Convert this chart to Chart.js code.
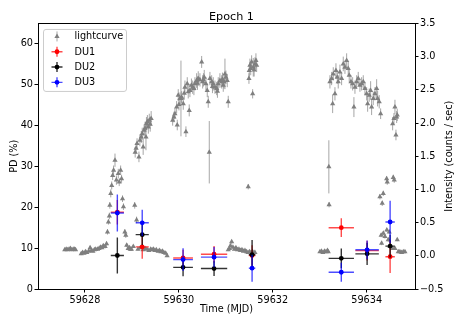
<!DOCTYPE html>
<html>
<head>
<meta charset="utf-8">
<script src="https://cdn.jsdelivr.net/npm/chart.js@4.4.1/dist/chart.umd.min.js"></script>
<style>html,body{margin:0;padding:0;background:#fff}</style>
</head>
<body>
<canvas id="chart" width="463" height="327"></canvas>
<script>
// tick labels
const timeTicks = [59628, 59630, 59632, 59634];
const pdTicks = [0, 10, 20, 30, 40, 50, 60];
const rateTicks = [-0.5, 0, 0.5, 1, 1.5, 2, 2.5, 3, 3.5];

// lightcurve (right axis), one line per stretch of the observation
const lcTime = [
  59627.57, 59627.60, 59627.63, 59627.66, 59627.69, 59627.72, 59627.75, 59627.78, 59627.80,
  59627.92, 59627.95, 59627.98, 59628.01, 59628.04, 59628.08, 59628.11, 59628.14, 59628.17, 59628.20, 59628.23, 59628.27, 59628.30, 59628.33, 59628.36, 59628.39, 59628.43,
  59628.46, 59628.48, 59628.50, 59628.52, 59628.53, 59628.55, 59628.57, 59628.59, 59628.61, 59628.64, 59628.67, 59628.71, 59628.73, 59628.76, 59628.78, 59628.80, 59628.82, 59628.85, 59628.87, 59628.89, 59628.92, 59628.95, 59628.97, 59628.99, 59629.03, 59629.06, 59629.10,
  59629.07, 59629.09, 59629.11, 59629.15, 59629.17, 59629.20, 59629.22, 59629.24, 59629.26, 59629.28, 59629.30, 59629.31, 59629.33, 59629.35, 59629.37, 59629.39, 59629.41,
  59629.13, 59629.18, 59629.24, 59629.28, 59629.32, 59629.36, 59629.40, 59629.43, 59629.46, 59629.49, 59629.52, 59629.56, 59629.59, 59629.62, 59629.65, 59629.68, 59629.72, 59629.75,
  59629.868, 59629.895, 59629.917, 59629.953, 59629.966, 59629.987, 59630.002, 59630.023, 59630.045, 59630.060, 59630.094, 59630.115, 59630.130, 59630.151, 59630.179, 59630.200, 59630.221, 59630.236, 59630.268, 59630.294, 59630.321, 59630.343, 59630.379, 59630.396, 59630.413, 59630.449, 59630.486, 59630.507, 59630.524, 59630.541, 59630.577, 59630.605, 59630.626, 59630.648, 59630.662, 59630.699, 59630.716, 59630.733, 59630.769, 59630.805, 59630.822, 59630.839, 59630.875, 59630.912, 59630.929, 59630.946, 59630.961, 59630.982, 59631.003, 59631.031, 59631.052,
  59631.052, 59631.078, 59631.099, 59631.125, 59631.152, 59631.184, 59631.216, 59631.248, 59631.280, 59631.312, 59631.344, 59631.376, 59631.408, 59631.440, 59631.472, 59631.504, 59631.536, 59631.568, 59631.600, 59631.621,
  59631.478, 59631.493, 59631.500, 59631.514, 59631.531, 59631.550, 59631.572, 59631.585, 59631.604, 59631.621, 59631.642, 59631.657,
  59633.005, 59633.037, 59633.069, 59633.101, 59633.133, 59633.165, 59633.182, 59633.195, 59633.200,
  59633.218, 59633.254, 59633.276, 59633.289, 59633.325, 59633.346, 59633.374, 59633.395, 59633.431, 59633.467, 59633.502, 59633.538, 59633.574, 59633.608, 59633.629, 59633.666, 59633.702, 59633.729, 59633.751, 59633.787, 59633.821, 59633.857, 59633.893, 59633.928, 59633.964, 59634.000, 59634.021, 59634.055, 59634.085, 59634.106, 59634.141, 59634.177, 59634.213, 59634.234, 59634.268, 59634.298,
  59634.554, 59634.582, 59634.603, 59634.624, 59634.639, 59634.652,
  59634.283, 59634.309, 59634.319, 59634.332, 59634.354, 59634.356, 59634.390, 59634.426, 59634.430, 59634.439, 59634.460, 59634.481, 59634.496, 59634.554, 59634.567, 59634.588, 59634.603, 59634.652, 59634.673, 59634.709, 59634.745, 59634.780, 59634.816
];
const lcRate = [
  0.09, 0.10, 0.09, 0.10, 0.11, 0.09, 0.10, 0.10, 0.09,
  0.03, 0.05, 0.04, 0.06, 0.05, 0.07, 0.12, 0.08, 0.07, 0.09, 0.10, 0.10, 0.11, 0.13, 0.12, 0.15, 0.14,
  0.18, 0.36, 0.51, 0.60, 0.76, 0.94, 1.06, 1.21, 1.29, 1.44, 1.14, 1.24, 1.11, 1.29, 1.16, 0.86, 0.74, 0.36, 0.31, 0.16, 0.11, 0.12, 0.10, 0.10, 0.14, 0.76, 0.54,
  1.56, 1.62, 1.69, 1.49, 1.74, 1.79, 1.84, 1.64, 1.89, 1.92, 1.79, 1.99, 2.02, 1.94, 2.04, 1.98, 2.07,
  0.10, 0.12, 0.09, 0.11, 0.10, 0.08, 0.10, 0.09, 0.10, 0.08, 0.09, 0.07, 0.08, 0.06, 0.07, 0.05, 0.04, 0.00,
  2.04, 2.09, 2.14, 2.24, 1.97, 2.42, 2.28, 2.37, 2.37, 2.39, 2.29, 2.45, 2.54, 1.87, 2.59, 2.47, 2.19, 2.49, 2.57, 2.54, 2.52, 2.59, 2.64, 2.60, 2.67, 2.65, 2.92, 2.62, 2.65, 2.69, 2.59, 2.49, 2.32, 1.56, 2.67, 2.62, 2.55, 2.59, 2.54, 2.52, 2.48, 2.59, 2.64, 2.62, 2.66, 2.57, 2.62, 2.74, 2.69, 2.64, 2.32,
  0.09, 0.11, 0.15, 0.21, 0.13, 0.10, 0.12, 0.09, 0.10, 0.08, 0.09, 0.07, 0.08, 0.06, 0.05, 0.06, 0.05, 0.06, 0.05, 0.05,
  1.04, 2.67, 2.79, 2.87, 2.82, 2.92, 2.44, 2.84, 2.80, 2.89, 2.94, 2.87,
  0.06, 0.07, 0.05, 0.07, 0.06, 0.08, 0.06, 1.34, 0.77,
  2.62, 2.67, 2.29, 2.74, 2.44, 2.79, 2.69, 2.62, 2.77, 2.67, 2.89, 2.84, 2.94, 2.82, 2.72, 2.62, 2.59, 2.24, 2.54, 2.62, 2.67, 2.57, 2.59, 2.62, 2.52, 2.44, 2.29, 2.42, 2.49, 2.24, 2.37, 2.44, 2.52, 2.37, 2.32, 2.14,
  1.99, 2.07, 2.24, 1.82, 2.09, 2.12,
  0.89, 0.31, 0.19, 0.79, 0.94, 0.34, 0.29, 1.16, 0.39, 1.11, 0.24, 0.36, 0.14, 0.11, 1.18, 1.14, 0.11, 0.24, 0.06, 0.06, 0.05, 0.06, 0.06
];
const lcErr = [
  0.02, 0.02, 0.02, 0.02, 0.02, 0.02, 0.02, 0.02, 0.02,
  0.02, 0.02, 0.02, 0.02, 0.02, 0.02, 0.03, 0.02, 0.02, 0.02, 0.02, 0.02, 0.02, 0.03, 0.02, 0.03, 0.03,
  0.03, 0.04, 0.04, 0.05, 0.05, 0.06, 0.06, 0.07, 0.07, 0.10, 0.07, 0.07, 0.06, 0.07, 0.06, 0.05, 0.05, 0.04, 0.04, 0.03, 0.03, 0.02, 0.02, 0.02, 0.02, 0.05, 0.05,
  0.08, 0.08, 0.08, 0.08, 0.09, 0.09, 0.09, 0.12, 0.09, 0.10, 0.20, 0.10, 0.10, 0.10, 0.10, 0.11, 0.11,
  0.02, 0.02, 0.02, 0.02, 0.02, 0.02, 0.02, 0.02, 0.02, 0.02, 0.02, 0.02, 0.02, 0.02, 0.02, 0.02, 0.02, 0.02,
  0.08, 0.08, 0.08, 0.09, 0.08, 0.09, 0.09, 0.09, 0.57, 0.09, 0.09, 0.10, 0.10, 0.08, 0.10, 0.10, 0.09, 0.10, 0.10, 0.10, 0.10, 0.10, 0.11, 0.10, 0.11, 0.10, 0.09, 0.10, 0.10, 0.11, 0.10, 0.10, 0.09, 0.47, 0.10, 0.10, 0.10, 0.10, 0.10, 0.10, 0.10, 0.10, 0.11, 0.10, 0.10, 0.10, 0.10, 0.23, 0.10, 0.10, 0.09,
  0.02, 0.02, 0.02, 0.03, 0.02, 0.02, 0.02, 0.02, 0.02, 0.02, 0.02, 0.02, 0.02, 0.02, 0.02, 0.02, 0.02, 0.02, 0.02, 0.02,
  0.04, 0.08, 0.09, 0.10, 0.10, 0.10, 0.07, 0.14, 0.10, 0.10, 0.11, 0.10,
  0.02, 0.02, 0.02, 0.02, 0.02, 0.02, 0.02, 0.40, 0.04,
  0.10, 0.10, 0.14, 0.10, 0.10, 0.11, 0.10, 0.10, 0.11, 0.10, 0.11, 0.10, 0.11, 0.10, 0.10, 0.10, 0.10, 0.15, 0.10, 0.10, 0.10, 0.10, 0.10, 0.10, 0.10, 0.10, 0.12, 0.10, 0.14, 0.12, 0.10, 0.10, 0.14, 0.12, 0.10, 0.08,
  0.10, 0.08, 0.11, 0.08, 0.09, 0.09,
  0.04, 0.03, 0.03, 0.04, 0.04, 0.03, 0.03, 0.04, 0.03, 0.04, 0.03, 0.03, 0.02, 0.02, 0.04, 0.04, 0.02, 0.02, 0.02, 0.02, 0.02, 0.02, 0.02
];

// polarization degree per time bin (left axis)
const duTime = [59628.69, 59629.22, 59630.09, 59630.75, 59631.56, 59633.46, 59634.01, 59634.50];
const duTimeErr = [0.14, 0.14, 0.21, 0.28, 0.07, 0.27, 0.25, 0.10];
const du1PD = [18.8, 10.3, 7.6, 8.5, 8.2, 15.0, 9.4, 7.9];
const du1Err = [3.0, 2.9, 2.0, 2.0, 2.5, 2.3, 2.4, 4.0];
const du2PD = [8.2, 13.3, 5.3, 5.0, 8.4, 7.5, 8.6, 10.5];
const du2Err = [4.4, 2.5, 2.2, 1.8, 3.6, 2.4, 2.7, 2.8];
const du3PD = [18.6, 16.2, 7.2, 7.8, 5.1, 4.1, 9.6, 16.4];
const du3Err = [4.5, 3.2, 2.8, 2.5, 3.3, 2.3, 2.3, 5.2];

const FONT = 'DejaVu Sans';
Chart.defaults.font.family = FONT;
Chart.defaults.color = '#000';

function pts(xs, ys) {
  return xs.map((x, i) => ({ x, y: ys[i] }));
}

// error bars drawn right before each dataset's markers
const errorBars = {
  id: 'errorBars',
  beforeDatasetDraw(chart, args) {
    const ds = chart.data.datasets[args.index];
    if (!ds.err) return;
    const sx = chart.scales.x, sy = chart.scales[ds.yAxisID];
    const a = chart.chartArea;
    const ctx = chart.ctx;
    ctx.save();
    ctx.beginPath();
    ctx.rect(a.left, a.top, a.right - a.left, a.bottom - a.top);
    ctx.clip();
    ctx.strokeStyle = ds.err.color;
    ctx.lineWidth = ds.err.width;
    ctx.beginPath();
    ds.data.forEach((p, i) => {
      const px = sx.getPixelForValue(p.x), py = sy.getPixelForValue(p.y);
      const ye = ds.err.y[i];
      ctx.moveTo(px, sy.getPixelForValue(p.y - ye));
      ctx.lineTo(px, sy.getPixelForValue(p.y + ye));
      if (ds.err.x) {
        const xe = ds.err.x[i];
        ctx.moveTo(sx.getPixelForValue(p.x - xe), py);
        ctx.lineTo(sx.getPixelForValue(p.x + xe), py);
      }
    });
    ctx.stroke();
    ctx.restore();
  }
};

// plot frame, right-axis title (reads bottom to top) and the legend box
const frameLegend = {
  id: 'frameLegend',
  afterDraw(chart) {
    const { ctx, chartArea: a } = chart;
    ctx.save();
    ctx.strokeStyle = '#000';
    ctx.lineWidth = 1;
    const l = Math.round(a.left) + 0.5, t = Math.round(a.top) + 0.5;
    const r = Math.round(a.right) + 0.5, b = Math.round(a.bottom) + 0.5;
    ctx.strokeRect(l, t, r - l, b - t);

    ctx.font = '9.7px "' + FONT + '"';
    ctx.fillStyle = '#000';
    ctx.textAlign = 'center';
    ctx.textBaseline = 'middle';
    ctx.save();
    ctx.translate(chart.scales.y1.right - 13.5, (a.top + a.bottom) / 2);
    ctx.rotate(-Math.PI / 2);
    ctx.fillText('Intensity (counts / sec)', 0, 0);
    ctx.restore();

    const bx = a.left + 5.5, by = a.top + 6, bw = 83, bh = 62;
    ctx.beginPath();
    ctx.roundRect(bx, by, bw, bh, 2.5);
    ctx.fillStyle = 'rgba(255,255,255,0.8)';
    ctx.fill();
    ctx.strokeStyle = '#cccccc';
    ctx.stroke();

    ctx.textAlign = 'left';
    chart.data.datasets.forEach((ds, i) => {
      const cy = by + 7 + i * 15.3, cx = bx + 13.5;
      ctx.strokeStyle = ds.err.color;
      ctx.lineWidth = ds.err.width;
      ctx.beginPath();
      ctx.moveTo(cx, cy - 5);
      ctx.lineTo(cx, cy + 5);
      if (ds.err.x) {
        ctx.moveTo(cx - 5.5, cy);
        ctx.lineTo(cx + 5.5, cy);
      }
      ctx.stroke();
      ctx.fillStyle = ds.backgroundColor;
      ctx.beginPath();
      if (ds.pointStyle === 'triangle') {
        const rr = ds.pointRadius;
        ctx.moveTo(cx, cy - rr);
        ctx.lineTo(cx + rr * 0.87, cy + rr * 0.5);
        ctx.lineTo(cx - rr * 0.87, cy + rr * 0.5);
        ctx.closePath();
      } else {
        ctx.arc(cx, cy, ds.pointRadius, 0, Math.PI * 2);
      }
      ctx.fill();
      ctx.fillStyle = '#000';
      ctx.fillText(ds.label, bx + 31, cy + 0.5);
    });
    ctx.restore();
  }
};

function fixTicks(arr) {
  return scale => { scale.ticks = arr.map(v => ({ value: v })); };
}

const tickGrid = {
  display: true, drawOnChartArea: false, drawTicks: true,
  tickLength: 3.5, tickColor: '#000', tickWidth: 1
};
const tickFont = { family: FONT, size: 9.7 };

new Chart(document.getElementById('chart'), {
  type: 'scatter',
  data: {
    datasets: [
      {
        label: 'lightcurve', data: pts(lcTime, lcRate), yAxisID: 'y1', order: 4,
        pointStyle: 'triangle', pointRadius: 3, backgroundColor: '#7f7f7f', borderWidth: 0,
        err: { y: lcErr, color: 'rgba(128,128,128,0.7)', width: 1 }
      },
      {
        label: 'DU1', data: pts(duTime, du1PD), yAxisID: 'y', order: 3,
        pointStyle: 'circle', pointRadius: 2.4, backgroundColor: '#ff0000', borderWidth: 0,
        err: { x: duTimeErr, y: du1Err, color: 'rgba(255,0,0,0.7)', width: 1.4 }
      },
      {
        label: 'DU2', data: pts(duTime, du2PD), yAxisID: 'y', order: 2,
        pointStyle: 'circle', pointRadius: 2.4, backgroundColor: '#000000', borderWidth: 0,
        err: { x: duTimeErr, y: du2Err, color: 'rgba(0,0,0,0.8)', width: 1.4 }
      },
      {
        label: 'DU3', data: pts(duTime, du3PD), yAxisID: 'y', order: 1,
        pointStyle: 'circle', pointRadius: 2.4, backgroundColor: '#0000ff', borderWidth: 0,
        err: { x: duTimeErr, y: du3Err, color: 'rgba(0,0,255,0.7)', width: 1.4 }
      }
    ]
  },
  options: {
    responsive: false,
    animation: false,
    layout: { padding: 0 },
    plugins: {
      legend: { display: false },
      tooltip: { enabled: false },
      title: {
        display: true, text: 'Epoch 1', color: '#000',
        font: { family: FONT, size: 11.2, weight: 'normal' },
        padding: { top: 10, bottom: 0 }
      }
    },
    scales: {
      x: {
        type: 'linear', position: 'bottom', min: 59627.0, max: 59635.03,
        afterBuildTicks: fixTicks(timeTicks),
        afterFit: s => { s.height = 38; },
        ticks: { font: tickFont, padding: 2, maxRotation: 0, callback: v => String(v) },
        grid: tickGrid, border: { display: false },
        title: { display: true, text: 'Time (MJD)', font: tickFont, padding: { top: 0, bottom: 12.2 } }
      },
      y: {
        type: 'linear', position: 'left', min: 0, max: 65,
        afterBuildTicks: fixTicks(pdTicks),
        afterFit: s => { s.width = 38; },
        ticks: { font: tickFont, padding: 1.5, callback: v => String(v) },
        grid: tickGrid, border: { display: false },
        title: { display: true, text: 'PD (%)', font: tickFont, padding: { top: 9, bottom: 0 } }
      },
      y1: {
        type: 'linear', position: 'right', min: -0.5, max: 3.5,
        afterBuildTicks: fixTicks(rateTicks),
        afterFit: s => { s.width = 48; },
        ticks: { font: tickFont, padding: 1.5, callback: v => v.toFixed(1).replace('-', '\u2212') },
        grid: tickGrid, border: { display: false },
        title: { display: false }
      }
    }
  },
  plugins: [errorBars, frameLegend]
});
</script>
</body>
</html>
